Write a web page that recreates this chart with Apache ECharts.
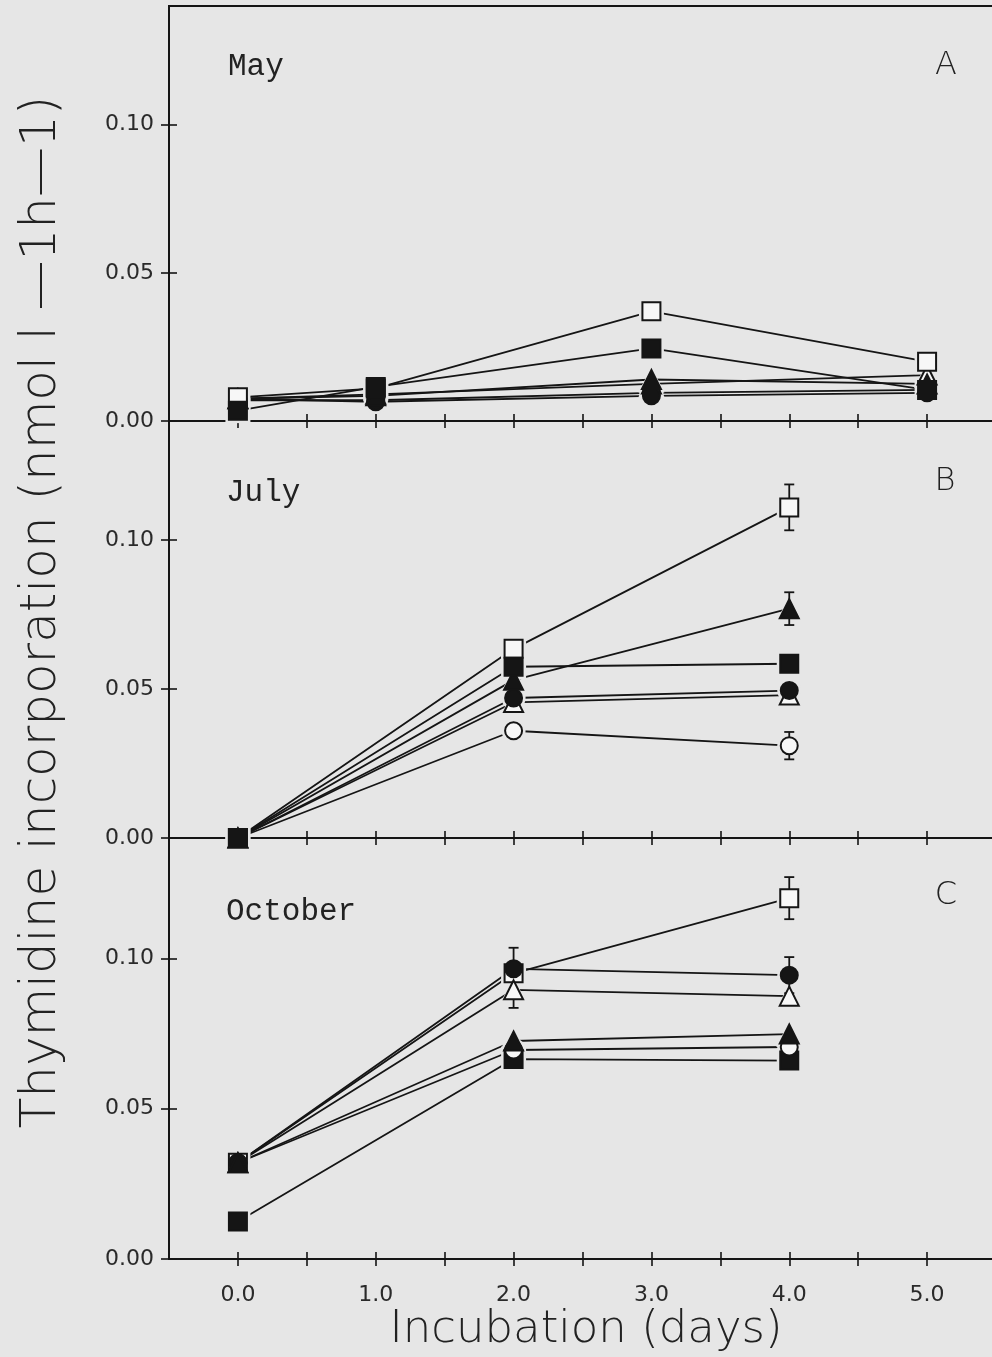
<!DOCTYPE html>
<html>
<head>
<meta charset="utf-8">
<script src="https://cdn.jsdelivr.net/npm/echarts@6/dist/echarts.min.js"></script>
<style>
html,body{margin:0;padding:0;background:#e6e6e6;}
#chart{width:992px;height:1357px;}
</style>
</head>
<body>
<div id="chart"></div>
<script>
// ---------- data ----------
const mayDays = [0, 1, 3, 5];
const julyDays = [0, 2, 4];
const octDays = [0, 2, 4];

const mayOpenSquare     = [0.008, 0.011, 0.037, 0.020];
const mayFilledSquare   = [0.0035, 0.0115, 0.0245, 0.0105];
const mayOpenTriangle   = [0.0075, 0.009, 0.0125, 0.0155];
const mayFilledTriangle = [0.0075, 0.0085, 0.014, 0.0125];
const mayOpenCircle     = [0.007, 0.007, 0.0095, 0.0105];
const mayFilledCircle   = [0.0075, 0.0065, 0.0085, 0.0095];

const julyOpenSquare     = [0.000, 0.0635, 0.111];
const julyFilledSquare   = [0.000, 0.0575, 0.0585];
const julyOpenTriangle   = [0.000, 0.0455, 0.048];
const julyFilledTriangle = [0.000, 0.053, 0.077];
const julyOpenCircle     = [0.000, 0.036, 0.031];
const julyFilledCircle   = [0.000, 0.047, 0.0495];

const octOpenSquare     = [0.032, 0.095, 0.120];
const octFilledSquare   = [0.0125, 0.0665, 0.066];
const octOpenTriangle   = [0.032, 0.0895, 0.0874];
const octFilledTriangle = [0.032, 0.0725, 0.0748];
const octOpenCircle     = [0.032, 0.0695, 0.0705];
const octFilledCircle   = [0.032, 0.0965, 0.0944];

// error bars: [day, value, sd]
const julyErrors = [[4, 0.111, 0.0077], [4, 0.077, 0.0055], [4, 0.031, 0.0046]];
const octErrors  = [[4, 0.120, 0.007], [2, 0.0965, 0.007], [2, 0.0895, 0.006], [4, 0.0944, 0.006]];

const yTickValues = [0, 0.05, 0.10];
const xTickValues = [0, 0.5, 1, 1.5, 2, 2.5, 3, 3.5, 4, 4.5, 5];
const xLabelValues = [0, 1, 2, 3, 4, 5];
const panelMonths = ['May', 'July', 'October'];
const panelLetters = ['A', 'B', 'C'];
const yTitle = 'Thymidine incorporation (nmol l —1h—1)';
const xTitle = 'Incubation (days)';

// ---------- styles ----------
const BG = '#e6e6e6';
const INK = '#151515';
const OPEN_FILL = '#f7f7f7';
const styles = {
  openSquare:     {symbol: 'rect', size: 18, fill: OPEN_FILL},
  filledSquare:   {symbol: 'rect', size: 18, fill: INK},
  openTriangle:   {symbol: 'triangle', size: 19, fill: OPEN_FILL},
  filledTriangle: {symbol: 'triangle', size: 19, fill: INK},
  openCircle:     {symbol: 'circle', size: 17, fill: OPEN_FILL},
  filledCircle:   {symbol: 'circle', size: 17, fill: INK}
};

const panels = [
  {days: mayDays, order: [
    ['openTriangle', mayOpenTriangle], ['openCircle', mayOpenCircle],
    ['filledCircle', mayFilledCircle], ['filledTriangle', mayFilledTriangle],
    ['openSquare', mayOpenSquare], ['filledSquare', mayFilledSquare]], errors: []},
  {days: julyDays, order: [
    ['openCircle', julyOpenCircle], ['openTriangle', julyOpenTriangle],
    ['filledCircle', julyFilledCircle], ['filledTriangle', julyFilledTriangle],
    ['openSquare', julyOpenSquare], ['filledSquare', julyFilledSquare]], errors: julyErrors},
  {days: octDays, order: [
    ['openSquare', octOpenSquare], ['openTriangle', octOpenTriangle],
    ['filledSquare', octFilledSquare], ['openCircle', octOpenCircle],
    ['filledCircle', octFilledCircle], ['filledTriangle', octFilledTriangle]], errors: octErrors}
];

const grids = [
  {left: 169, width: 827, top: 6, height: 415},
  {left: 169, width: 827, top: 421, height: 417},
  {left: 169, width: 827, top: 838, height: 421}
];

const xAxes = [], yAxes = [], series = [];
grids.forEach((g, i) => {
  const isBottom = i === 2;
  xAxes.push({
    type: 'value', gridIndex: i, min: -0.5, max: 5.5, interval: 0.5, position: 'bottom',
    axisLine: {show: true, onZero: false, lineStyle: {color: INK, width: 2}},
    axisTick: {show: true, inside: false, length: 7, customValues: xTickValues, lineStyle: {color: INK, width: 1.6}},
    axisLabel: {show: isBottom, customValues: xLabelValues, margin: 25,
      formatter: v => v.toFixed(1), fontFamily: 'DejaVu Sans', fontSize: 22, color: '#2a2a2a'},
    splitLine: {show: false}
  });
  xAxes.push({
    type: 'value', gridIndex: i, min: -0.5, max: 5.5, interval: 0.5, position: 'bottom',
    axisLine: {show: false, onZero: false},
    axisTick: {show: true, inside: true, length: 7, customValues: xTickValues, lineStyle: {color: INK, width: 1.6}},
    axisLabel: {show: false}, splitLine: {show: false}
  });
  yAxes.push({
    type: 'value', gridIndex: i, min: 0, max: 0.14, interval: 0.05, position: 'left',
    axisLine: {show: true, onZero: false, lineStyle: {color: INK, width: 2}},
    axisTick: {show: true, inside: false, length: 8, customValues: yTickValues, lineStyle: {color: INK, width: 1.6}},
    axisLabel: {show: true, customValues: yTickValues, margin: 15,
      formatter: v => v.toFixed(2), fontFamily: 'DejaVu Sans', fontSize: 22, color: '#2a2a2a'},
    splitLine: {show: false}
  });
  yAxes.push({
    type: 'value', gridIndex: i, min: 0, max: 0.14, interval: 0.05, position: 'left',
    axisLine: {show: false, onZero: false},
    axisTick: {show: true, inside: true, length: 8, customValues: yTickValues, lineStyle: {color: INK, width: 1.6}},
    axisLabel: {show: false}, splitLine: {show: false}
  });

  const p = panels[i];
  const ax = {xAxisIndex: i * 2, yAxisIndex: i * 2};
  p.order.forEach(([key, vals], k) => {
    const s = styles[key];
    const pts = p.days.map((d, j) => [d, vals[j]]);
    series.push(Object.assign({
      type: 'line', z: 2, data: pts, showSymbol: false, symbol: 'none',
      lineStyle: {color: INK, width: 1.8}, emphasis: {disabled: true}, silent: true
    }, ax));
    series.push(Object.assign({
      type: 'scatter', z: 3, data: pts, symbol: s.symbol, symbolSize: s.size + 7,
      itemStyle: {color: BG, opacity: 1}, emphasis: {disabled: true}, silent: true
    }, ax));
    series.push(Object.assign({
      type: 'scatter', z: 5 + k, data: pts, symbol: s.symbol, symbolSize: s.size,
      itemStyle: {color: s.fill, borderColor: INK, borderWidth: 2, opacity: 1}, emphasis: {disabled: true}
    }, ax));
  });
  if (p.errors.length) {
    series.push(Object.assign({
      type: 'custom', z: 4, data: p.errors,
      renderItem: (params, api) => {
        const x = api.value(0), y = api.value(1), e = api.value(2);
        const t = api.coord([x, y + e]), b = api.coord([x, y - e]);
        const w = 5, st = {stroke: INK, lineWidth: 1.8};
        return {type: 'group', children: [
          {type: 'line', shape: {x1: t[0], y1: t[1], x2: b[0], y2: b[1]}, style: st},
          {type: 'line', shape: {x1: t[0] - w, y1: t[1], x2: t[0] + w, y2: t[1]}, style: st},
          {type: 'line', shape: {x1: b[0] - w, y1: b[1], x2: b[0] + w, y2: b[1]}, style: st}
        ]};
      }
    }, ax));
  }
});

const gridOpts = grids.map((g, i) => Object.assign({outerBoundsMode: 'none', containLabel: false}, g, i === 0 ?
  {show: true, borderColor: INK, borderWidth: 2, backgroundColor: 'transparent'} : {}));

const monthPos = [[228, 67], [226, 493], [226, 912]];
const letterPos = [[946, 66], [945, 482], [946, 896]];
const graphics = [];
panelMonths.forEach((m, i) => graphics.push({
  type: 'text', x: monthPos[i][0], y: monthPos[i][1],
  style: {text: m, fontFamily: 'Liberation Mono', fontSize: 31, fill: '#222',
    textAlign: 'left', textVerticalAlign: 'middle'}
}));
panelLetters.forEach((l, i) => graphics.push({
  type: 'text', x: letterPos[i][0], y: letterPos[i][1],
  style: {text: l, fontFamily: 'DejaVu Sans', fontWeight: 200, fontSize: 32, fill: '#222',
    textAlign: 'center', textVerticalAlign: 'middle'}
}));
graphics.push({
  type: 'text', x: 42, y: 612, rotation: Math.PI / 2,
  style: {text: yTitle, fontFamily: 'DejaVu Sans', fontWeight: 200,
    fontSize: 50, fill: '#222', textAlign: 'center', textVerticalAlign: 'middle'}
});
graphics.push({
  type: 'text', x: 586, y: 1330,
  style: {text: xTitle, fontFamily: 'DejaVu Sans', fontWeight: 200,
    fontSize: 45, fill: '#222', textAlign: 'center', textVerticalAlign: 'middle'}
});

const chart = echarts.init(document.getElementById('chart'), null, {renderer: 'canvas'});
chart.setOption({
  backgroundColor: BG,
  animation: false,
  grid: gridOpts,
  xAxis: xAxes,
  yAxis: yAxes,
  series: series,
  graphic: graphics
});
</script>
</body>
</html>
